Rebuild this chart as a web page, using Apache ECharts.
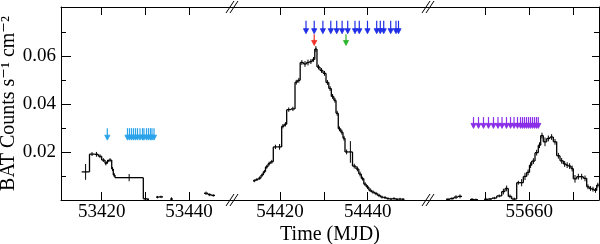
<!DOCTYPE html>
<html>
<head>
<meta charset="utf-8">
<script src="https://cdn.jsdelivr.net/npm/echarts@6/dist/echarts.min.js"></script>
<style>
html, body { margin: 0; padding: 0; background: #fff; }
#main { width: 600px; height: 244px; }
</style>
</head>
<body>
<div id="main"></div>
<script>
// ---- data (MJD bin edges, BAT rate, 1-sigma error) ----
// 2005 outburst
var edges2005 = [53415.42, 53417.21, 53418.36, 53419.23, 53420.00, 53420.76, 53421.15, 53421.52, 53422.30, 53422.66,
    53423.05, 53429.54, 53430.38, 53430.84, 53432.44, 53433.13, 53434.05, 53435.65, 53436.34, 53443.44,
    53444.36, 53445.16, 53445.96];
var rate2005 = [0.0117, 0.0191, 0.0190, 0.0182, 0.0166, 0.0152, 0.0159, 0.0166, 0.0129, 0.0104,
    0.0093, 0.0005, 0.0003, null, 0.0012, 0.0013, null, 0.0004, null, 0.0028,
    0.0022, 0.0019];
var err2005 = [0.0033, 0.0008, 0.0010, 0.0008, 0.0008, 0.0008, 0.0008, 0.0008, 0.0008, 0.0008,
    0.0015, 0.0004, 0.0004, null, 0.0005, 0.0005, null, 0.0007, null, 0.0007,
    0.0006, 0.0005];

// 2007 outburst
var edges2007 = [54413.84, 54414.41, 54415.05, 54415.66, 54416.19, 54416.69, 54417.26, 54417.78, 54418.47, 54419.43,
    54420.38, 54420.95, 54421.52, 54422.46, 54423.42, 54423.99, 54424.60, 54425.36, 54426.04, 54426.72,
    54427.36, 54427.93, 54428.43, 54429.12, 54429.80, 54430.49, 54431.13, 54431.70, 54432.27, 54432.77,
    54433.29, 54433.86, 54434.36, 54434.82, 54435.57, 54436.53, 54437.33, 54437.97, 54438.54, 54439.11,
    54439.68, 54440.25, 54440.86, 54441.55, 54442.23, 54442.92, 54443.60, 54444.28, 54444.97, 54445.65,
    54446.34, 54447.02, 54447.71, 54448.39];
var rate2007 = [0.0080, 0.0085, 0.0091, 0.0104, 0.0118, 0.0138, 0.0151, 0.0159, 0.0221, 0.0221,
    0.0307, 0.0315, 0.0376, 0.0379, 0.0490, 0.0498, 0.0572, 0.0566, 0.0572, 0.0576,
    0.0585, 0.0628, 0.0553, 0.0539, 0.0527, 0.0489, 0.0464, 0.0431, 0.0415, 0.0361,
    0.0296, 0.0282, 0.0257, 0.0200, 0.0200, 0.0141, 0.0129, 0.0108, 0.0089, 0.0066,
    0.0054, 0.0041, 0.0033, 0.0027, 0.0019, 0.0012, 0.0010, 0.0006, 0.0004, 0.0006,
    0.0003, 0.0004, 0.0003];
var err2007 = [0.0006, 0.0006, 0.0007, 0.0007, 0.0007, 0.0008, 0.0008, 0.0008, 0.0009, 0.0012,
    0.0009, 0.0009, 0.0009, 0.0009, 0.0010, 0.0010, 0.0010, 0.0012, 0.0012, 0.0010,
    0.0010, 0.0012, 0.0010, 0.0010, 0.0010, 0.0010, 0.0010, 0.0010, 0.0010, 0.0010,
    0.0010, 0.0010, 0.0010, 0.0010, 0.0045, 0.0010, 0.0010, 0.0010, 0.0008, 0.0008,
    0.0008, 0.0008, 0.0007, 0.0007, 0.0007, 0.0006, 0.0006, 0.0005, 0.0005, 0.0005,
    0.0005, 0.0005, 0.0005];

// 2011 outburst
var edges2011 = [55640.98, 55641.89, 55642.81, 55643.72, 55644.63, 55646.46, 55647.37, 55648.29, 55649.66, 55650.57,
    55651.48, 55652.56, 55653.70, 55654.45, 55655.20, 55655.98, 55657.12, 55657.87, 55658.63, 55659.40,
    55660.04, 55660.55, 55661.30, 55662.05, 55662.60, 55663.19, 55663.97, 55664.72, 55665.48, 55666.25,
    55667.01, 55667.76, 55668.38, 55668.90, 55669.52, 55670.04, 55670.82, 55671.57, 55672.33, 55673.10,
    55673.67, 55674.24, 55674.82, 55675.39, 55675.90];
var rate2011 = [0.0003, 0.0006, 0.0012, 0.0015, null, 0.0002, 0.0001, null, 0.0003, 0.0004,
    0.0008, 0.0017, 0.0035, 0.0048, 0.0015, 0.0004, 0.0072, 0.0072, 0.0098, 0.0115,
    0.0145, 0.0162, 0.0197, 0.0228, 0.0268, 0.0242, 0.0256, 0.0262, 0.0242, 0.0184,
    0.0163, 0.0150, 0.0145, 0.0141, 0.0131, 0.0088, 0.0097, 0.0097, 0.0090, 0.0055,
    0.0048, 0.0045, 0.0040, 0.0062];
var err2011 = [0.0004, 0.0005, 0.0008, 0.0008, null, 0.0006, 0.0005, null, 0.0004, 0.0004,
    0.0005, 0.0006, 0.0012, 0.0012, 0.0008, 0.0006, 0.0008, 0.0015, 0.0015, 0.0012,
    0.0012, 0.0012, 0.0012, 0.0012, 0.0012, 0.0018, 0.0012, 0.0012, 0.0012, 0.0012,
    0.0012, 0.0012, 0.0012, 0.0012, 0.0012, 0.0016, 0.0012, 0.0012, 0.0012, 0.0010,
    0.0010, 0.0010, 0.0010, 0.0010];

// observation markers (MJD)
var cyanArrows = [53421.29, 53425.91, 53426.37, 53426.83, 53427.29, 53427.75, 53428.21, 53428.78, 53429.35, 53429.69,
    53430.27, 53430.73, 53431.18, 53431.53, 53431.99];
var blueArrows = [54425.93, 54427.80, 54429.78, 54431.58, 54432.93, 54434.16, 54435.44, 54437.10, 54438.08, 54439.95,
    54442.05, 54442.87, 54443.65, 54445.24, 54446.45, 54447.02];
var redArrows = [54427.80];
var greenArrows = [54435.05];
var purpleArrows = [55647.26, 55648.40, 55649.54, 55650.68, 55651.82, 55652.85, 55653.77, 55654.79, 55655.71, 55656.51,
    55657.30, 55657.99, 55658.45, 55658.90, 55659.36, 55659.82, 55660.27, 55660.73, 55661.19, 55661.64, 55662.05];
// arrow [top, tip] in rate units
var cyanLevel = [0.0299, 0.0249];
var blueLevel = [0.0746, 0.0692];
var redLevel = [0.0690, 0.0643];
var purpleLevel = [0.0345, 0.0298];

var ranges = [[53410.68, 53449.86], [54409.05, 54453.75], [55636.87, 55675.91]];
var tickVals = [[53420, 53430, 53440], [54420, 54430, 54440], [55650, 55660, 55670]];
var labelVals = [[53420, 53440], [54420, 54440], [55660]];
var yMajor = [0.02, 0.04, 0.06];
var yMinor = [0.01, 0.03, 0.05, 0.07];
var yMax = 0.0803;

// ---- layout ----
var panels = [{ left: 61, width: 171 }, { left: 232, width: 196 }, { left: 428, width: 171 }];
var plotTop = 7, plotH = 193;
var font = '"Liberation Serif", "DejaVu Serif", serif';

function histData(edges, rate, err) {
    var out = [];
    for (var i = 0; i < rate.length; i++) {
        if (rate[i] == null) continue;
        var prev = (i > 0 && rate[i - 1] != null) ? rate[i - 1] : -1;
        out.push([edges[i], edges[i + 1], rate[i], err[i], prev]);
    }
    return out;
}

function histItem(params, api) {
    var x0 = api.value(0), x1 = api.value(1), v = api.value(2), e = api.value(3), prev = api.value(4);
    var a = api.coord([x0, v]);
    var b = api.coord([x1, v]);
    var mid = (x0 + x1) / 2;
    var et = api.coord([mid, v + e]);
    var eb = api.coord([mid, v - e]);
    var st = { stroke: '#000', lineWidth: 1.3 };
    var kids = [
        { type: 'line', shape: { x1: a[0], y1: a[1], x2: b[0], y2: b[1] }, style: st },
        { type: 'line', shape: { x1: et[0], y1: et[1], x2: eb[0], y2: eb[1] }, style: { stroke: '#000', lineWidth: 1 } }
    ];
    if (prev >= 0) {
        var p = api.coord([x0, prev]);
        kids.push({ type: 'line', shape: { x1: p[0], y1: p[1], x2: a[0], y2: a[1] }, style: st });
    }
    return { type: 'group', children: kids };
}

function arrowItem(color) {
    return function(params, api) {
        var a = api.coord([api.value(0), api.value(1)]);
        var b = api.coord([api.value(0), api.value(2)]);
        return {
            type: 'group',
            children: [
                { type: 'line', shape: { x1: a[0], y1: a[1], x2: b[0], y2: b[1] - 4 }, style: { stroke: color, lineWidth: 1.2 } },
                { type: 'polygon', shape: { points: [[b[0] - 2.6, b[1] - 5], [b[0] + 2.6, b[1] - 5], [b[0], b[1]]] },
                  style: { fill: color, stroke: color, lineWidth: 0.8 } }
            ]
        };
    };
}

function arrowData(list, level) {
    return list.map(function(t) { return [t, level[0], level[1]]; });
}

var grids = [], xAxes = [], yAxes = [];
panels.forEach(function(p, i) {
    grids.push({ left: p.left, top: plotTop, width: p.width, height: plotH,
        containLabel: false, outerBoundsMode: 'none' });
    var base = {
        type: 'value', gridIndex: i, min: ranges[i][0], max: ranges[i][1],
        splitLine: { show: false },
        axisLine: { show: true, onZero: false, lineStyle: { color: '#000', width: 1 } }
    };
    xAxes.push(Object.assign({}, base, {
        position: 'bottom',
        axisTick: { inside: true, length: 8, customValues: tickVals[i], lineStyle: { color: '#000' } },
        axisLabel: { customValues: labelVals[i], margin: 3, color: '#000', fontFamily: font, fontSize: 19,
            formatter: function(v) { return String(v); } },
        name: i === 1 ? 'Time (MJD)' : '',
        nameLocation: 'middle', nameGap: 25, nameMoveOverlap: false,
        nameTextStyle: { color: '#000', fontFamily: font, fontSize: 20 }
    }));
    xAxes.push(Object.assign({}, base, {
        position: 'top',
        axisTick: { inside: true, length: 8, customValues: tickVals[i], lineStyle: { color: '#000' } },
        axisLabel: { show: false }
    }));
});

// left axis (panel 1): major with labels + minor ticks
yAxes.push({
    type: 'value', gridIndex: 0, min: 0, max: yMax, position: 'left',
    splitLine: { show: false },
    axisLine: { show: true, onZero: false, lineStyle: { color: '#000' } },
    axisTick: { inside: true, length: 10, customValues: yMajor, lineStyle: { color: '#000' } },
    axisLabel: { customValues: yMajor, margin: 5, color: '#000', fontFamily: font, fontSize: 19,
        formatter: function(v) { return v.toFixed(2); } },
    name: 'BAT Counts s\u207B\u00B9 cm\u207B\u00B2',
    nameLocation: 'middle', nameRotate: 90, nameGap: 42, nameMoveOverlap: false,
    nameTextStyle: { color: '#000', fontFamily: font, fontSize: 20 }
});
yAxes.push({
    type: 'value', gridIndex: 0, min: 0, max: yMax, position: 'left',
    splitLine: { show: false }, axisLine: { show: false, onZero: false },
    axisTick: { inside: true, length: 5, customValues: yMinor, lineStyle: { color: '#000' } },
    axisLabel: { show: false }
});
yAxes.push({ type: 'value', gridIndex: 1, min: 0, max: yMax, show: false });
// right axis (panel 3)
yAxes.push({
    type: 'value', gridIndex: 2, min: 0, max: yMax, position: 'right',
    splitLine: { show: false },
    axisLine: { show: true, onZero: false, lineStyle: { color: '#000' } },
    axisTick: { inside: true, length: 7, customValues: yMajor, lineStyle: { color: '#000' } },
    axisLabel: { show: false }
});
yAxes.push({
    type: 'value', gridIndex: 2, min: 0, max: yMax, position: 'right',
    splitLine: { show: false }, axisLine: { show: false, onZero: false },
    axisTick: { inside: true, length: 5, customValues: yMinor, lineStyle: { color: '#000' } },
    axisLabel: { show: false }
});

function hist(idx, yIdx, data) {
    return { type: 'custom', xAxisIndex: idx * 2, yAxisIndex: yIdx, clip: true,
        renderItem: histItem, encode: { x: [0, 1], y: 2 }, data: data, silent: true };
}
function arrows(idx, yIdx, data, color) {
    return { type: 'custom', xAxisIndex: idx * 2, yAxisIndex: yIdx, clip: false,
        renderItem: arrowItem(color), encode: { x: 0, y: [1, 2] }, data: data, silent: true, z: 3 };
}

// break marks on the frame
var breaks = [];
[panels[1].left, panels[2].left].forEach(function(x) {
    [plotTop, plotTop + plotH].forEach(function(y) {
        [-2, 2].forEach(function(d) {
            breaks.push({ type: 'line', z: 100,
                shape: { x1: x + d - 4, y1: y + 6, x2: x + d + 4, y2: y - 6 },
                style: { stroke: '#000', lineWidth: 1 } });
        });
    });
});

var chart = echarts.init(document.getElementById('main'), null, { renderer: 'canvas' });
chart.setOption({
    animation: false,
    backgroundColor: '#fff',
    grid: grids,
    xAxis: xAxes,
    yAxis: yAxes,
    graphic: breaks,
    series: [
        hist(0, 0, histData(edges2005, rate2005, err2005)),
        hist(1, 2, histData(edges2007, rate2007, err2007)),
        hist(2, 3, histData(edges2011, rate2011, err2011)),
        arrows(0, 0, arrowData(cyanArrows, cyanLevel), '#2ba3ea'),
        arrows(1, 2, arrowData(blueArrows, blueLevel), '#1f2fe6'),
        arrows(1, 2, arrowData(redArrows, redLevel), '#f0302a'),
        arrows(1, 2, arrowData(greenArrows, redLevel), '#2fb52f'),
        arrows(2, 3, arrowData(purpleArrows, purpleLevel), '#8a2ee8')
    ]
});
</script>
</body>
</html>
